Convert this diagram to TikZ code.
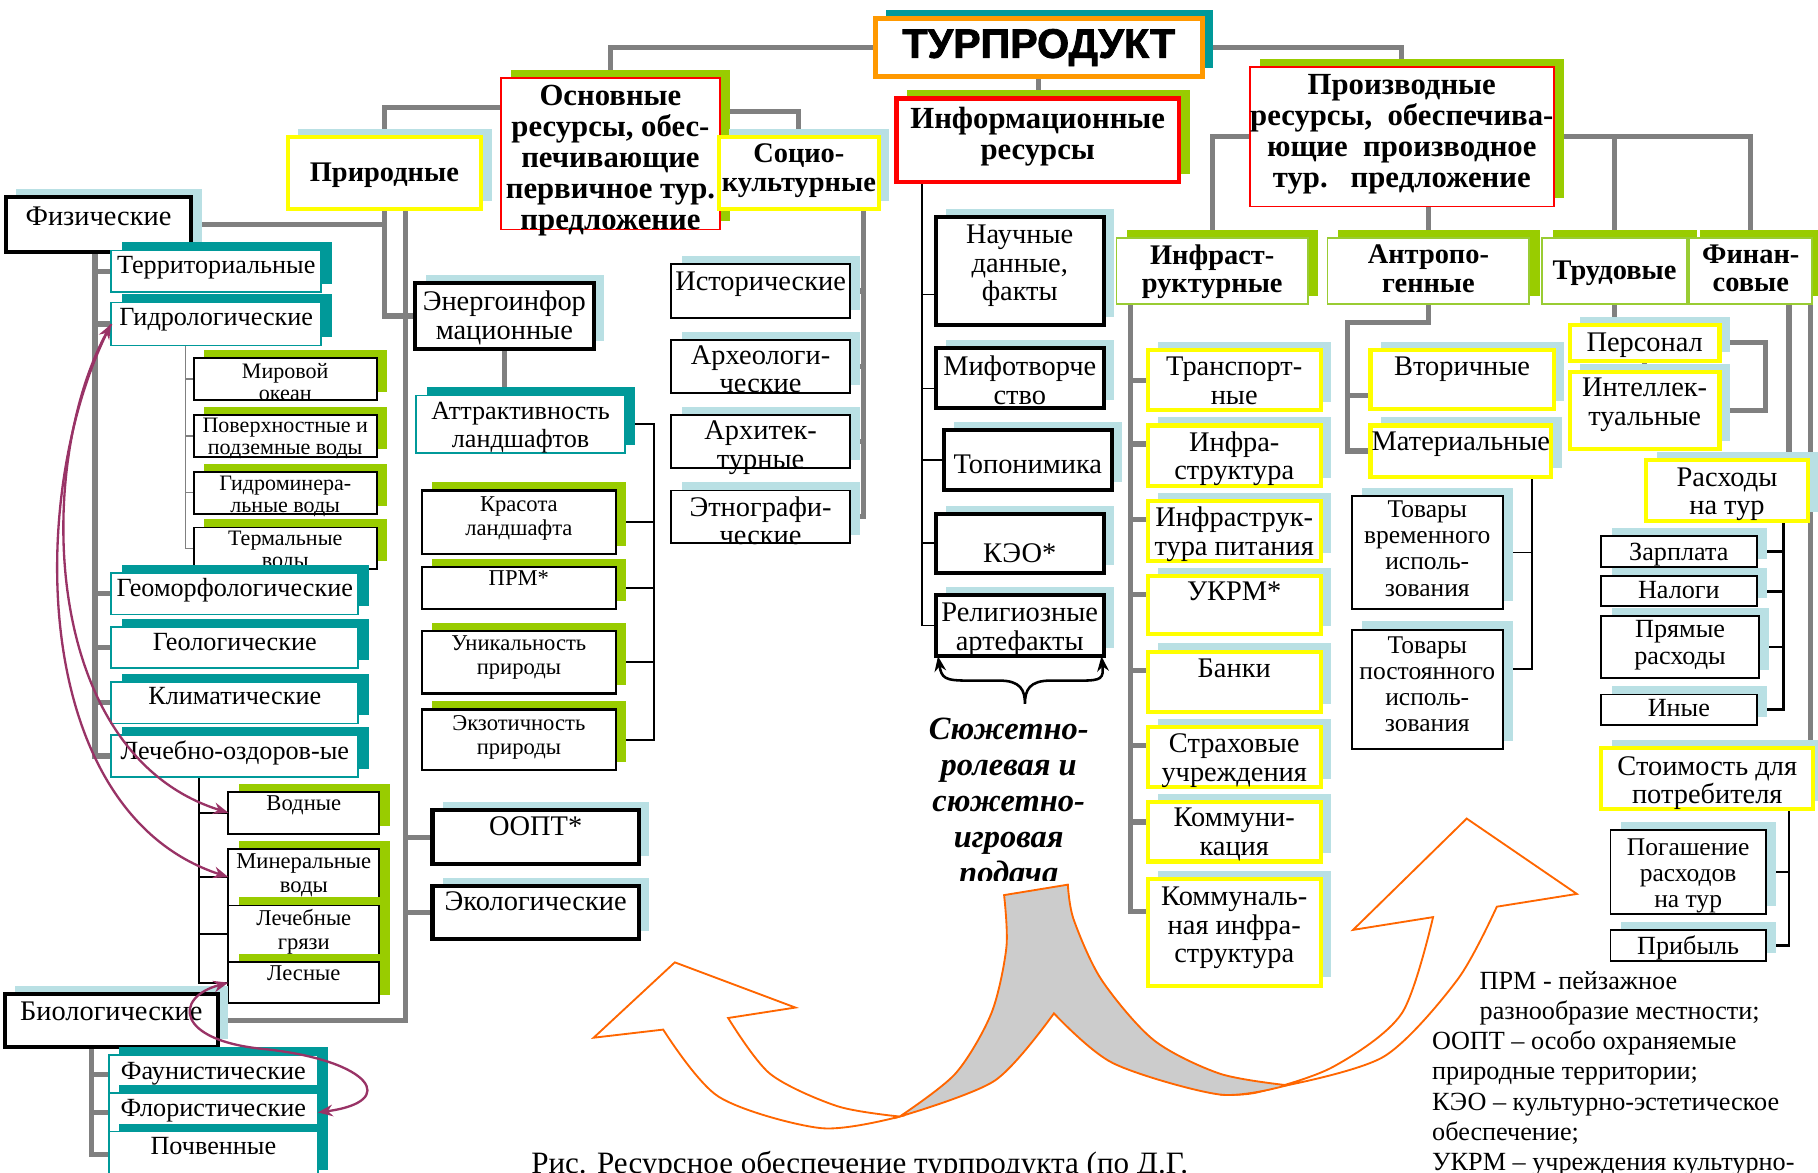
\documentclass[tikz,border=0pt]{standalone}
\usepackage{fontspec}
\setmainfont{Liberation Serif}
\newfontfamily\heavy[FakeBold=2]{Liberation Sans}
\usetikzlibrary{positioning, arrows.meta, shadows, backgrounds}

\definecolor{lnk}{RGB}{128,128,128}
\definecolor{lblue}{RGB}{185,224,228}
\definecolor{lgreen}{RGB}{153,204,0}
\definecolor{dteal}{RGB}{0,153,153}
\definecolor{torange}{RGB}{255,153,0}
\definecolor{aorange}{RGB}{255,102,0}
\definecolor{plum}{RGB}{153,51,102}
\definecolor{ribbon}{RGB}{204,204,204}
\definecolor{ylw}{RGB}{255,255,0}
\definecolor{lgline}{RGB}{153,204,51}

\newcommand\fsA{\fontsize{22.6}{23.5}\selectfont}
\newcommand\fsB{\fontsize{24.5}{24.5}\selectfont}
\newcommand\fsC{\fontsize{19.5}{20.5}\selectfont}
\newcommand\fsD{\fontsize{19}{19}\selectfont}
\newcommand\fsT{\fontsize{22}{22.5}\selectfont}
\newcommand\fsH{\bfseries\fontsize{26.5}{26.8}\selectfont}
\newcommand\fsG{\bfseries\fontsize{24.5}{24.5}\selectfont}

\tikzset{
    bx/.style={rectangle, fill=white, inner sep=0pt, outer sep=0pt}, % plain white box
    lbsh/.style={general shadow={fill=lblue, shadow xshift=9pt, shadow yshift=7pt}}, % offset shadows
    grsh/.style={general shadow={fill=lgreen, shadow xshift=9pt, shadow yshift=7pt}},
    tlsh/.style={general shadow={fill=dteal, shadow xshift=9pt, shadow yshift=7pt}},
    blk/.style={bx, draw=black, line width=3.5pt},
    blkmid/.style={bx, draw=black, line width=2pt},
    blkthin/.style={bx, draw=black, line width=1.6pt},
    yel/.style={bx, draw=ylw, line width=3.5pt},
    tl/.style={bx, draw=dteal, line width=1.5pt},
    redb/.style={bx, draw=red, line width=1.5pt},
    lgb/.style={bx, draw=lgline, line width=1.5pt},
    txt/.style={inner sep=0pt, align=center, font=\fsB, anchor=north}, % box captions
    gline/.style={draw=lnk, line width=4.5pt}, % gray links
    gthin/.style={draw=lnk, line width=1.2pt},
    bline/.style={draw=black, line width=1.8pt},
    parr/.style={draw=plum, line width=2pt},
    oarr/.style={draw=aorange, line width=1.6pt, fill=white},
}

% box with shadow and caption at its top
\newcommand{\rbox}[7][]{%
  \node[#2, anchor=north west, minimum width=#5pt, minimum height=#6pt] (#3) at (#4) {};
  \node[txt, #1] (#3-t) at ([yshift=-5pt]#3.north) {#7};
}

\begin{document}
\begin{tikzpicture}[x=1pt, y=-1pt, >={Stealth[length=13pt, width=10pt]}]
\useasboundingbox (0,0) rectangle (1568,1011);

% top level
\node[bx, draw=torange, line width=4pt, tlsh, anchor=north west, minimum width=282pt, minimum height=50pt,
      font=\heavy\bfseries\fontsize{35.5}{35.5}\selectfont] (tp) at (755,16) {ТУРПРОДУКТ};
\rbox[font=\fsH, yshift=-1pt]{redb, grsh}{osn}{432,67}{189}{131}{Основные\\ресурсы, обес-\\печивающие\\первичное тур.\\предложение}
\rbox[font=\fsH, yshift=-2pt]{bx, draw=red, line width=4pt, grsh}{inf}{773,85}{244}{72}{Информационные\\ресурсы}
\rbox[font=\fsH, yshift=-1pt]{redb, grsh}{proiz}{1078,58}{262}{120}{Производные\\ресурсы,~ обеспечива-\\ющие~ производное\\тур.~~~предложение}
\rbox[font=\fsG, yshift=-17pt]{yel, lbsh}{prir}{248,118}{167}{62}{Природные}
\rbox[font=\fsG, yshift=-1pt]{yel, lbsh}{soc}{620,118}{138}{62}{Социо-\\культурные}
\rbox[font=\fsG, yshift=-1pt]{lgb, grsh}{infr}{963,205}{165}{57}{Инфраст-\\руктурные}
\rbox[font=\fsG, yshift=-1pt]{lgb, grsh}{antr}{1145,205}{174}{57}{Антропо-\\генные}
\rbox[font=\fsG, yshift=-15pt]{lgb, grsh}{trud}{1330,205}{125}{57}{Трудовые}
\rbox[font=\fsG, yshift=-1pt]{lgb, grsh}{fin}{1457,205}{106}{57}{Финан-\\совые}

% physical
\rbox[yshift=-3pt]{blk, lbsh}{fiz}{5,170}{160}{47}{Физические}
\rbox[font=\fsA]{tl, tlsh}{terr}{96,216}{181}{36}{Территориальные}
\rbox[font=\fsA]{tl, tlsh}{gidro}{96,261}{181}{37}{Гидрологические}
\rbox[font=\fsD, yshift=1pt]{blkthin, grsh}{mir}{167,309}{158}{36}{Мировой\\океан}
\rbox[font=\fsD, yshift=3pt]{blkthin, grsh}{pov}{167,358}{158}{36}{Поверхностные и\\подземные воды}
\rbox[font=\fsD, yshift=2pt]{blkthin, grsh}{gmin}{167,407}{158}{36}{Гидроминера-\\льные воды}
\rbox[font=\fsD, yshift=2pt]{blkthin, grsh}{term}{167,455}{158}{36}{Термальные\\воды}
\rbox[font=\fsA]{tl, tlsh}{geomorf}{96,494}{213}{36}{Геоморфологические}
\rbox[font=\fsA]{tl, tlsh}{geol}{96,541}{213}{35}{Геологические}
\rbox[font=\fsA]{tl, tlsh}{klim}{96,588}{213}{36}{Климатические}
\rbox[font=\fsA]{tl, tlsh}{lech}{96,634}{213}{36}{Лечебно-оздоров-ые}
\rbox[font=\fsC, yshift=2pt]{blkthin, grsh}{vodn}{197,683}{130}{36}{Водные}
\rbox[font=\fsC, yshift=1pt]{blkthin, grsh}{miner}{197,732}{130}{49}{Минеральные\\воды}
\rbox[font=\fsC, yshift=2pt]{blkthin, grsh}{gryaz}{197,781}{130}{49}{Лечебные\\грязи}
\rbox[font=\fsC, yshift=2pt]{blkthin, grsh}{les}{197,830}{130}{35}{Лесные}
\rbox[yshift=-2pt]{blk, lbsh}{bio}{4,857}{184}{46}{Биологические}
\rbox[font=\fsA, yshift=-1pt]{tl, tlsh}{faun}{94,910}{180}{33}{Фаунистические}
\rbox[font=\fsA]{tl, tlsh}{flor}{94,943}{180}{33}{Флористические}
\rbox[font=\fsA]{tl, tlsh}{pochv}{94,976}{180}{40}{Почвенные}

% energy-informational
\rbox[yshift=-2pt]{blk, lbsh}{energo}{358,244}{154}{57}{Энергоинфор\\мационные}
\rbox[font=\fsA, yshift=-1pt]{tl, tlsh}{attr}{359,341}{180}{50}{Аттрактивность\\ландшафтов}
\rbox[font=\fsC]{blkmid, grsh}{kras}{364,423}{167}{55}{Красота\\ландшафта}
\rbox[font=\fsC, yshift=2pt]{blkmid, grsh}{prm}{364,489}{167}{36}{ПРМ*}
\rbox[font=\fsC, yshift=1pt]{blkmid, grsh}{unik}{364,544}{167}{54}{Уникальность\\природы}
\rbox[font=\fsC]{blkmid, grsh}{ekz}{364,612}{167}{52}{Экзотичность\\природы}
\rbox{blk, lbsh}{oopt}{373,699}{178}{46}{ООПТ*}
\rbox{blk, lbsh}{ekol}{373,764}{178}{46}{Экологические}

% socio-cultural
\rbox[yshift=-1pt]{blkthin, lbsh}{ist}{579,228}{154}{46}{Исторические}
\rbox{blkthin, lbsh}{arh}{579,293}{154}{46}{Археологи-\\ческие}
\rbox{blkthin, lbsh}{arht}{579,358}{154}{46}{Архитек-\\турные}
\rbox{blkthin, lbsh}{etn}{579,423}{154}{45}{Этнографи-\\ческие}

% informational
\rbox[yshift=-2pt]{blk, lbsh}{nauch}{807,187}{145}{93}{Научные\\данные,\\факты}
\rbox[yshift=-2pt]{blk, lbsh}{mif}{807,300}{145}{52}{Мифотворче\\ство}
\rbox[yshift=-16pt]{blk, lbsh}{topo}{814,371}{145}{52}{Топонимика}
\rbox[yshift=-21pt]{blk, lbsh}{keo}{807,443}{145}{51}{КЭО*}
\rbox[yshift=-2pt]{blk, lbsh}{relig}{807,513}{145}{53}{Религиозные\\артефакты}

% infrastructure
\rbox[yshift=-1pt]{yel, lbsh}{trans}{990,302}{149}{52}{Транспорт-\\ные}
\rbox{yel, lbsh}{infra}{990,367}{149}{52}{Инфра-\\структура}
\rbox{yel, lbsh}{pit}{990,432}{149}{52}{Инфраструк-\\тура питания}
\rbox{yel, lbsh}{ukrm}{990,497}{149}{50}{УКРМ*}
\rbox[yshift=-1pt]{yel, lbsh}{bank}{990,562}{149}{52}{Банки}
\rbox[yshift=-1pt]{yel, lbsh}{strah}{990,627}{149}{52}{Страховые\\учреждения}
\rbox{yel, lbsh}{komm}{990,692}{149}{51}{Коммуни-\\кация}
\rbox[yshift=-2pt]{yel, lbsh}{kommun}{990,758}{149}{92}{Коммуналь-\\ная инфра-\\структура}

% anthropogenic
\rbox[yshift=-1pt]{yel, lbsh}{vtor}{1182,302}{158}{51}{Вторичные}
\rbox{yel, lbsh}{mat}{1182,367}{156}{44}{Материальные}
\rbox[font=\fsT, yshift=1pt]{blkthin, lbsh}{tovv}{1166,428}{130}{97}{Товары\\временного\\исполь-\\зования}
\rbox[font=\fsT, yshift=-1pt]{blkthin, lbsh}{tovp}{1166,543}{130}{103}{Товары\\постоянного\\исполь-\\зования}

% labour
\rbox[yshift=-2pt]{yel, lbsh}{pers}{1354,280}{129}{31}{Персонал}
\rbox{yel, lbsh}{intel}{1354,321}{129}{66}{Интеллек-\\туальные}

% financial
\rbox[yshift=-1pt]{yel, lbsh}{rash}{1420,397}{139}{52}{Расходы\\на тур}
\rbox[font=\fsA, yshift=-1pt]{blkthin, lbsh}{zarp}{1381,462}{134}{27}{Зарплата}
\rbox[font=\fsA, yshift=1pt]{blkthin, lbsh}{nalog}{1381,497}{134}{26}{Налоги}
\rbox[font=\fsA, yshift=1pt]{blkthin, lbsh}{pryam}{1381,531}{136}{54}{Прямые\\расходы}
\rbox[font=\fsA, yshift=1pt]{blkthin, lbsh}{inye}{1381,599}{134}{26}{Иные}
\rbox[yshift=-2pt]{yel, lbsh}{stoim}{1381,645}{183}{53}{Стоимость для\\потребителя}
\rbox[font=\fsT, yshift=-2pt]{blkthin, lbsh}{pogash}{1389,716}{134}{72}{Погашение\\расходов\\на тур}
\rbox[font=\fsA]{blkthin, lbsh}{prib}{1389,802}{134}{27}{Прибыль}

% links behind the boxes
\begin{scope}[on background layer]
\draw[gline] (tp.west) -| (osn.north);
\draw[gline] (tp.east) -| (proiz.north);
\draw[gline] (tp.south) -- (tp.south |- inf.north);
\draw[gline] ([yshift=-26pt]osn.north west) -| (prir.north);
\draw[gline] ([yshift=-29pt]osn.north east) -| (soc.north);
\draw[gline] ([yshift=-60pt]proiz.north west) -| (infr.north);
\draw[gline] ([yshift=-60pt]proiz.north east) -| (fin.north);
\draw[gline] ([yshift=-60pt]proiz.north east) -| (trud.north);
\draw[gline] (antr.north) -- (antr.north |- proiz.south);
% natural
\draw[gline] (fiz.east) -| (prir.south);
\draw[gline] (prir.south) |- (energo.west);
\coordinate (pv) at ([xshift=18pt]prir.south);
\draw[gline] (pv) |- (bio.east);
\draw[gline] (oopt.west) -- (oopt.west -| pv);
\draw[gline] (ekol.west) -- (ekol.west -| pv);
\draw[gline] (energo.south) -- (energo.south |- attr.north);
\coordinate (av) at ([xshift=25pt]attr.east);
\draw[bline] (attr.east) -- (av) |- (ekz.east);
\foreach \n in {kras, prm, unik} \draw[bline] (\n.east) -- (\n.east -| av);
\coordinate (fv) at ([xshift=-3pt]fiz.south);
\draw[gline] (fv) |- (lech.west);
\foreach \n in {terr, gidro, geomorf, geol, klim} \draw[gline] (\n.west) -- (\n.west -| fv);
\coordinate (hv) at (160,298);
\draw[gthin] (hv) |- (term.west);
\foreach \n in {mir, pov, gmin} \draw[gthin] (\n.west) -- (\n.west -| hv);
\coordinate (mv) at (172,670);
\draw[bline] (mv) |- (les.west);
\foreach \n in {vodn, miner, gryaz} \draw[bline] (\n.west) -- (\n.west -| mv);
\coordinate (bv) at (79,903);
\draw[gline] (bv) |- (pochv.west);
\foreach \n in {faun, flor} \draw[gline] (\n.west) -- (\n.west -| bv);
% socio-cultural
\coordinate (sv) at ([xshift=-13pt]soc.south east);
\draw[gline] (sv) |- (etn.east);
\foreach \n in {ist, arh, arht} \draw[gline] (\n.east) -- (\n.east -| sv);
% informational
\coordinate (iv) at (795,157);
\draw[bline, line width=1.5pt] (iv) |- (relig.west);
\coordinate (n1) at ([yshift=-67pt]nauch.north west);
\coordinate (n2) at ([yshift=-35pt]mif.north west);
\foreach \n in {n1, n2, topo.west, keo.west} \draw[bline, line width=1.5pt] (\n) -- (\n -| iv);
% derived
\coordinate (fv2) at (975,262);
\draw[gline] (fv2) |- ([yshift=-28pt]kommun.north west);
\foreach \n/\d in {trans/26pt, infra/16pt, pit/16pt, ukrm/16pt, bank/16pt, strah/16pt, komm/17pt} {
  \coordinate (s) at ([yshift=-\d]\n.north west);
  \draw[gline] (s) -- (s -| fv2);
}
\coordinate (ag) at (1162,278);
\draw[gline] (antr.south) |- (ag) |- ([yshift=-22pt]mat.north west);
\coordinate (v1) at ([yshift=-39pt]vtor.north west);
\draw[gline] (v1) -- (v1 -| ag);
\coordinate (mt) at (1321,411);
\draw[bline, line width=1.5pt] (mt) |- ([yshift=-34pt]tovp.north east);
\draw[bline, line width=1.5pt] (tovv.east) -- (tovv.east -| mt);
\draw[gline] (trud.south) -- (trud.south |- pers.north);
\draw[gline] (pers.south) -- (intel.north);
\draw[gline] (pers.east) -| ([xshift=40pt]intel.east) -- (intel.east);
\coordinate (f1) at ([xshift=-20pt]fin.south east);
\coordinate (f2) at ([xshift=-1.5pt]fin.south east);
\draw[gline] (f1) -- (f1 |- rash.north);
\draw[gline] (f2) -- (f2 |- stoim.north);
\coordinate (rv) at (1538,449);
\draw[bline, line width=2.5pt] (rv) |- (inye.east);
\foreach \n in {zarp, nalog, pryam} \draw[bline, line width=2.5pt] (\n.east) -- (\n.east -| rv);
\coordinate (cv) at (1543,698);
\draw[bline, line width=2pt] (cv) |- (prib.east);
\draw[bline, line width=2pt] (pogash.east) -- (pogash.east -| cv);
\end{scope}

% purple links
\draw[parr, <->] (gidro.west) .. controls (30,400) and (34,650) .. (vodn.west);
\draw[parr, ->] (gidro.west) .. controls (22,420) and (24,700) .. (miner.west);
\draw[parr, <->] (les.west) .. controls (150,860) and (150,898) .. (230,905)
  .. controls (320,915) and (345,950) .. (flor.east);

% brace under the informational boxes
\draw[line width=2.2pt, <->] ([xshift=2pt]relig.south west) .. controls (812,585) and (815,587) .. (835,587)
  -- (862,587) .. controls (880,587) and (884,595) .. (884,607)
  .. controls (884,595) and (888,587) .. (906,587) -- (933,587)
  .. controls (950,587) and (952,585) .. ([xshift=-2pt]relig.south east);
\begin{scope}
\clip (760,600) rectangle (1000,759);
\node[inner sep=0pt, align=center, anchor=north, font=\bfseries\itshape\fontsize{28}{31}\selectfont] (plot) at (870,619)
  {Сюжетно-\\ролевая и\\сюжетно-\\игровая\\подача};
\end{scope}

% curved arrows
\filldraw[oarr] (776,963) -- plot[smooth] coordinates {(776,963) (708,973) (620,946) (572,888)}
  -- (512,895) -- (582,830) -- (686,869) -- (628,878)
  -- plot[smooth] coordinates {(628,878) (664,926) (722,954) (776,963)} -- cycle;
\filldraw[oarr] (1110,936) -- plot[smooth] coordinates {(1110,936) (1194,911) (1257,845) (1291,782)}
  -- (1360,771) -- (1265,706) -- (1167,802) -- (1236,791)
  -- plot[smooth] coordinates {(1236,791) (1209,874) (1150,920) (1085,942) (1052,944)} -- cycle;
\filldraw[oarr, fill=ribbon] (866,772) -- (921,763)
  -- plot[smooth] coordinates {(921,763) (926,793) (950,845) (995,897) (1052,926) (1110,936)}
  -- plot[smooth] coordinates {(1110,936) (1052,944) (960,917) (909,874)}
  -- plot[smooth] coordinates {(909,874) (858,932) (776,963)}
  -- plot[smooth] coordinates {(776,963) (824,926) (855,874) (868,817) (866,772)} -- cycle;

% legend and caption
\foreach \lx/\lt [count=\i] in {1276/{ПРМ - пейзажное}, 1276/{разнообразие местности;},
    1235/{ООПТ – особо охраняемые}, 1235/{природные территории;}, 1235/{КЭО – культурно-эстетическое},
    1235/{обеспечение;}, 1235/{УКРМ – учреждения культурно-}}
  \node[anchor=base west, inner sep=0pt, font=\fsA] (lg\i) at (\lx, {827.4+26*\i}) {\lt};
\node[anchor=base west, inner sep=0pt, font=\fontsize{26.8}{28}\selectfont] (cap) at (458,1012)
  {Рис. Ресурсное обеспечение турпродукта (по Д.Г.};
\end{tikzpicture}
\end{document}
